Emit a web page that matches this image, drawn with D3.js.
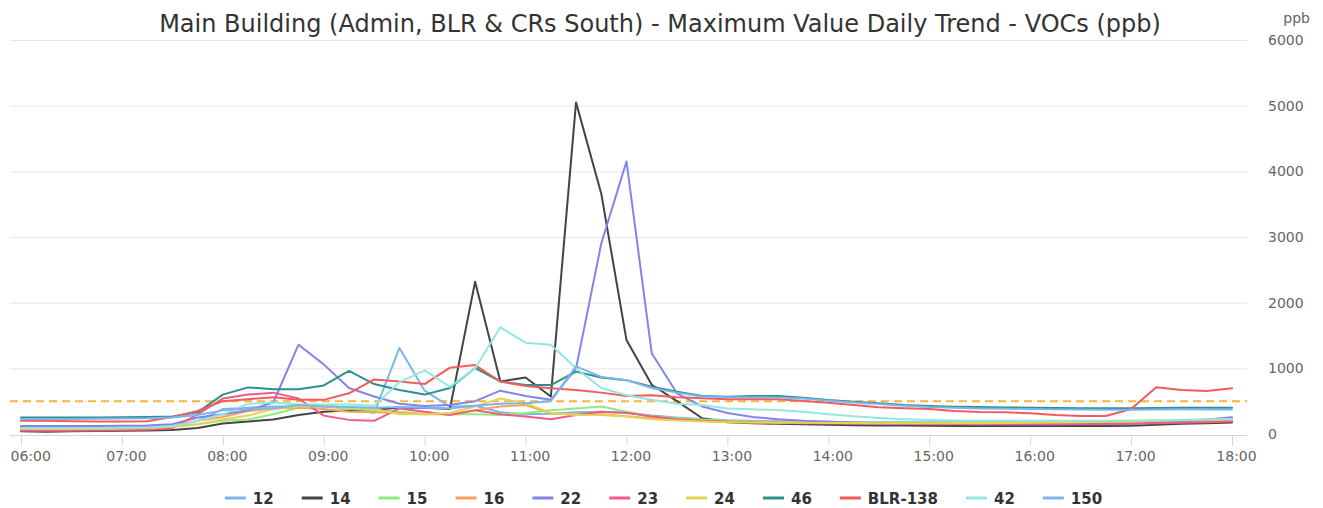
<!DOCTYPE html>
<html><head><meta charset="utf-8">
<script src="https://cdn.jsdelivr.net/npm/d3@7"></script>
<style>body{margin:0;background:#fff;font-family:"DejaVu Sans",sans-serif;}</style>
</head><body><svg id="c" width="1323" height="508"></svg>
<script>
const times = [];
for (let h = 6; h <= 18; h++) for (let m = 0; m < 60; m += 15) { if (h === 18 && m > 0) break; times.push(String(h).padStart(2,"0")+":"+String(m).padStart(2,"0")); }
const tickLabels = ["06:00","07:00","08:00","09:00","10:00","11:00","12:00","13:00","14:00","15:00","16:00","17:00","18:00"];
const yTicks = [0,1000,2000,3000,4000,5000,6000];
const threshold = 500;

const s12 = [100,100,100,100,100,105,120,200,380,400,420,420,430,400,320,1310,660,416,430,330,300,310,330,340,320,280,250,230,210,200,195,190,185,180,180,178,178,178,178,178,178,178,180,180,182,188,195,200,210];
const s14 = [40,35,40,45,50,55,60,90,160,190,220,290,340,360,370,400,400,380,2320,800,860,570,5050,3660,1430,750,500,240,180,165,155,150,140,135,130,128,125,122,120,120,120,120,120,120,125,140,155,165,175];
const s15 = [80,80,80,80,85,90,110,150,200,220,300,400,420,380,360,340,310,300,300,290,320,360,390,420,340,265,240,220,200,190,185,180,178,175,172,170,170,170,170,170,170,170,172,175,178,182,188,195,200];
const s16 = [90,90,90,90,95,100,120,200,260,350,390,400,380,340,330,320,300,300,360,420,440,315,300,300,270,240,220,200,190,180,175,170,168,165,162,160,160,160,160,160,160,160,162,165,170,178,185,192,200];
const s22 = [120,120,120,120,125,130,150,250,300,360,480,1360,1060,700,570,460,426,440,500,660,580,520,1000,2900,4150,1230,620,420,320,260,225,200,185,175,165,158,155,152,150,150,150,150,150,150,150,170,190,220,255];
const s23 = [50,50,50,55,60,65,90,300,540,600,630,540,280,215,200,390,340,290,360,300,265,225,290,340,325,265,225,200,185,175,170,165,160,158,155,152,150,150,150,150,150,150,152,155,160,165,172,180,190];
const s24 = [80,80,80,80,85,90,110,150,220,280,380,420,420,400,380,300,300,320,420,540,470,320,290,290,265,225,205,190,180,175,172,170,168,166,165,165,165,165,165,168,170,175,180,185,192,200,210,220,230];
const s46 = [250,250,250,252,255,258,265,330,600,710,680,680,740,960,760,670,600,700,1005,800,746,746,950,860,820,720,645,578,568,578,578,553,518,492,467,441,426,415,410,405,400,395,393,392,392,395,400,400,400];
const sBLR = [200,200,195,190,190,195,260,350,500,530,560,520,520,620,830,800,760,1010,1050,800,730,695,670,630,580,590,560,543,528,528,528,502,477,441,406,391,381,350,335,330,315,290,275,275,381,711,670,655,695];
const s42 = [90,90,90,90,95,100,120,200,300,460,480,450,450,450,430,790,970,720,1000,1625,1390,1360,1000,700,590,520,460,440,390,376,365,340,300,270,245,225,212,205,202,200,200,200,200,202,205,210,215,220,225];
const s150 = [230,230,230,232,235,238,250,290,360,390,390,440,420,410,400,410,400,390,430,460,470,500,1030,870,820,700,630,570,560,560,555,540,505,480,455,430,410,400,390,385,380,375,372,370,370,372,375,375,375];

const seriesNames = ["12","14","15","16","22","23","24","46","BLR-138","42","150"];
const seriesData = [s12,s14,s15,s16,s22,s23,s24,s46,sBLR,s42,s150];
const colors = ["#7cb5ec","#434348","#90ed7d","#f7a35c","#8085e9","#f15c80","#e4d354","#2b908f","#f45b5b","#91e8e1","#7cb5ec"];

const svg = d3.select("#c");
const x = d3.scalePoint().domain(times).range([21, 1232]);
const y = d3.scaleLinear().domain([0, 6000]).range([434, 40]);

// title
svg.append("text").attr("x", 660).attr("y", 32).attr("text-anchor","middle")
  .attr("font-size", 24).attr("fill","#333").text("Main Building (Admin, BLR & CRs South) - Maximum Value Daily Trend - VOCs (ppb)");

// gridlines
svg.append("g").selectAll("line").data(yTicks.slice(1)).join("line")
  .attr("x1",10).attr("x2",1247).attr("y1",d=>y(d)+0.5).attr("y2",d=>y(d)+0.5)
  .attr("stroke","#e6e6e6").attr("stroke-width",1);

// y axis labels (right)
const yAxis = d3.axisRight(y).tickValues(yTicks).tickFormat(d3.format("d")).tickSize(0).tickPadding(0);
const yg = svg.append("g").attr("transform","translate(1268,0)").call(yAxis);
yg.select(".domain").remove();
yg.selectAll("text").attr("font-size",14).attr("fill","#666").attr("font-family","DejaVu Sans");
svg.append("text").attr("x",1310).attr("y",23).attr("text-anchor","end").attr("font-size",14).attr("fill","#666").text("ppb");

// x axis
const xAxis = d3.axisBottom(x).tickValues(tickLabels).tickSize(10).tickPadding(6);
const xg = svg.append("g").attr("transform","translate(0,435.5)").call(xAxis);
xg.select(".domain").attr("d","M10,0H1247").attr("stroke","#ccd6eb");
xg.selectAll(".tick line").attr("stroke","#ccd6eb");
xg.selectAll("text").attr("font-size",14).attr("fill","#666").attr("font-family","DejaVu Sans").attr("x",4);
// justify first label inside the chart edge
xg.selectAll(".tick").filter(d=>d==="06:00").select("text").attr("text-anchor","start").attr("x", 10 - x("06:00"));

// threshold
svg.append("line").attr("x1",10).attr("x2",1247).attr("y1",y(threshold)).attr("y2",y(threshold))
  .attr("stroke","#ffb23f").attr("stroke-width",2).attr("stroke-dasharray","8,5");

// series lines
const line = d3.line().x((d,i)=>x(times[i])).y(d=>y(d));
svg.append("g").selectAll("path").data(seriesData).join("path")
  .attr("d", d=>line(d)).attr("fill","none").attr("stroke",(d,i)=>colors[i])
  .attr("stroke-width",2).attr("stroke-linejoin","round").attr("stroke-linecap","round");

// legend
const lg = svg.append("g");
let cx = 0;
seriesNames.forEach((n,i)=>{
  const g = lg.append("g");
  g.append("line").attr("x1",0).attr("x2",21).attr("y1",0).attr("y2",0).attr("stroke",colors[i]).attr("stroke-width",3);
  const t = g.append("text").attr("x",28).attr("y",5.5).attr("font-size",15).attr("font-weight","bold").attr("fill","#333").text(n);
  const w = 28 + t.node().getComputedTextLength();
  g.attr("transform",`translate(${cx},0)`);
  cx += w + 28;
});
const totalW = cx - 28;
lg.attr("transform",`translate(${663.5 - totalW/2},498)`);
</script></body></html>
